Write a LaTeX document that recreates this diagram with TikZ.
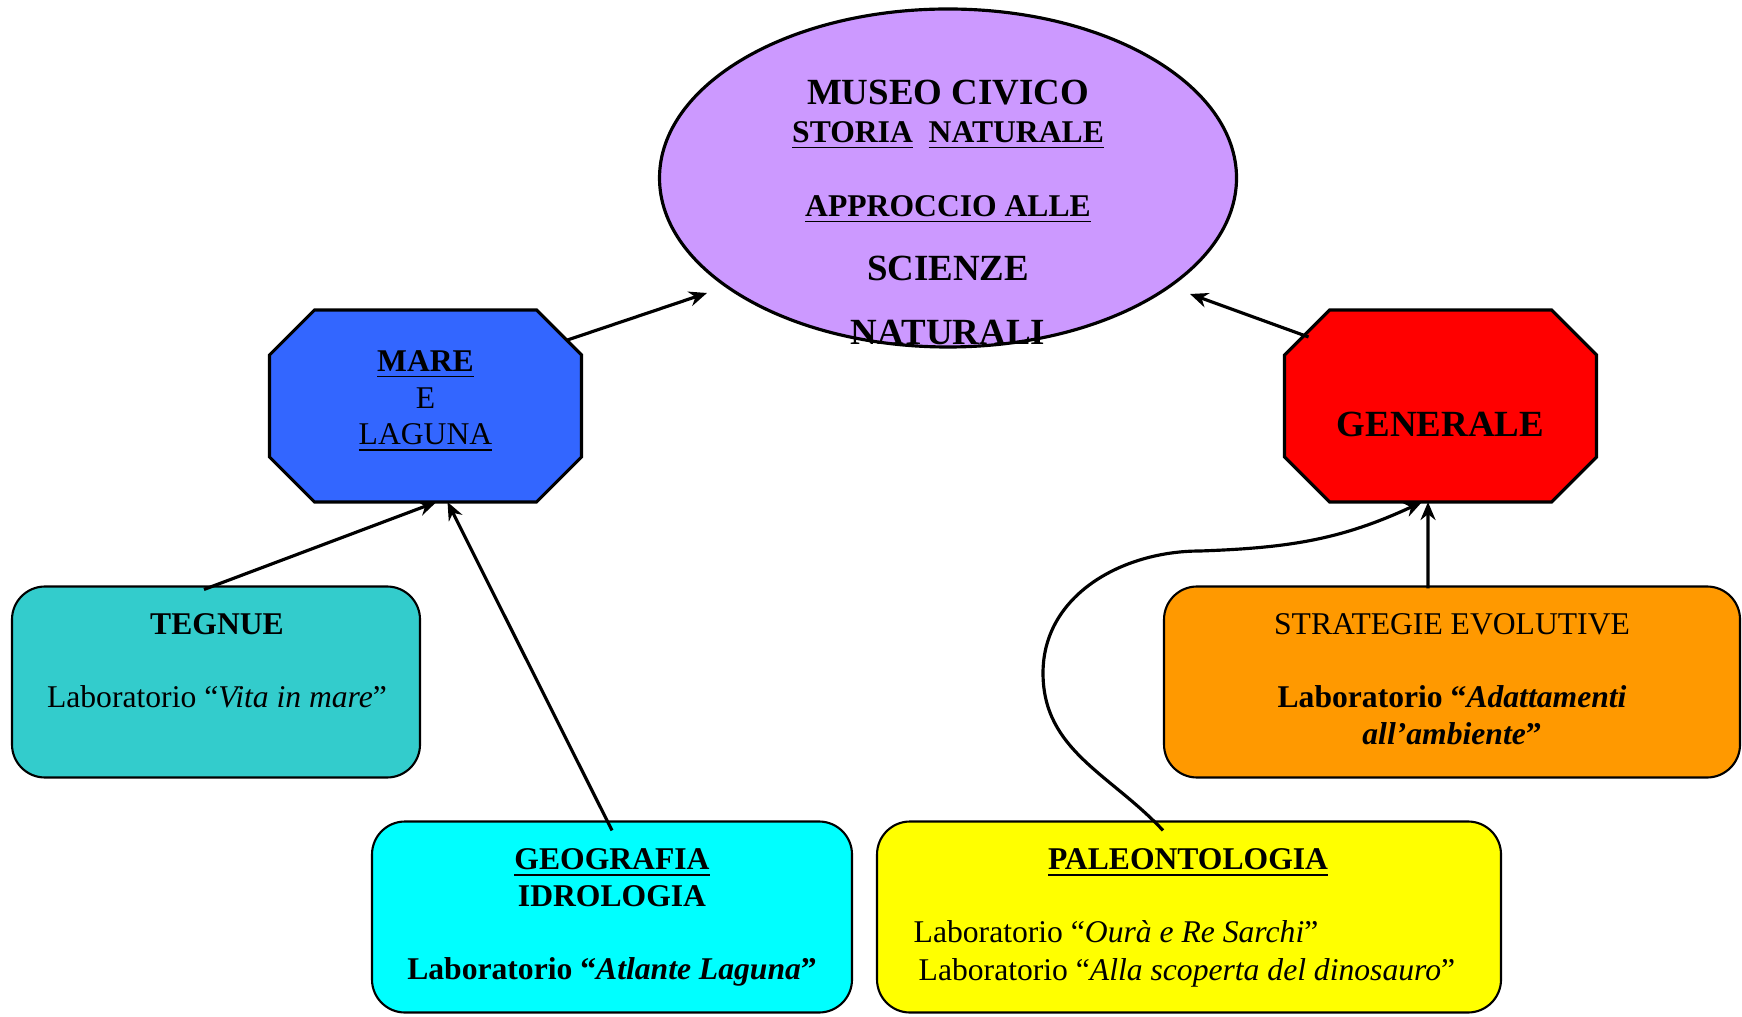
\documentclass[tikz,border=0pt]{standalone}
\usepackage{fontspec}
\setmainfont{Liberation Serif}
\usetikzlibrary{shapes.geometric}
\usetikzlibrary{arrows.meta}
\definecolor{viola}{HTML}{CC99FF}
\definecolor{blu}{HTML}{3366FF}
\definecolor{rosso}{HTML}{FF0000}
\definecolor{verdeacqua}{HTML}{33CCCC}
\definecolor{arancio}{HTML}{FF9900}
\definecolor{ciano}{HTML}{00FFFF}
\definecolor{giallo}{HTML}{FFFF00}
% ottagono attorno al nodo #1, colore #2
\newcommand{\ottagono}[2]{%
  \draw [black,fill=#2,line width=0.9pt] ([xshift=\c]#1.north west) -- ([xshift=-\c]#1.north east)
    -- ([yshift=-\c]#1.north east) -- ([yshift=\c]#1.south east) -- ([xshift=-\c]#1.south east)
    -- ([xshift=\c]#1.south west) -- ([yshift=\c]#1.south west) -- ([yshift=-\c]#1.north west) -- cycle;}

\begin{document}
\begin{tikzpicture}[
  ottbox/.style={inner sep=0,outer sep=0,minimum width=3.12cm,minimum height=1.92cm},
  scatola/.style={draw,black,rounded corners=0.33cm,inner sep=0,minimum height=1.91cm,line width=0.6pt},
  testo/.style={inner sep=0,align=center,font=\fontsize{9}{10.4}\selectfont},
  freccia/.style={-{Stealth[length=\l, width=\w]},line width=0.9pt}]
\def\l{1.8mm}
\def\w{1.5mm}
\def\c{4.5mm}
\useasboundingbox (0,0) rectangle (17.42,10.16);

\node [draw,black,fill=viola,ellipse,inner sep=0,minimum width=5.77cm,minimum height=3.38cm,line width=0.9pt, name=museo] at (9.48,8.38) {};
\node [ottbox, name=mare]                                           at (4.255,6.10) {};
\node [ottbox, name=generale]                                       at (14.405,6.10) {};
\ottagono{mare}{blu}
\ottagono{generale}{rosso}
\node [scatola,fill=verdeacqua,minimum width=4.08cm, name=tegnue]   at (2.16,3.34) {};
\node [scatola,fill=arancio,minimum width=5.76cm, name=strategie]   at (14.52,3.34) {};
\node [scatola,fill=ciano,minimum width=4.80cm, name=geografia]     at (6.12,0.99) {};
\node [scatola,fill=giallo,minimum width=6.24cm, name=paleo]        at (11.89,0.99) {};

% testi
\node [testo,anchor=north,font=\fontsize{9}{10.8}\selectfont\bfseries, name=museo-t] at (9.48,9.37)
  {{\fontsize{10.5}{10.8}\selectfont MUSEO CIVICO}\\ \underline{STORIA}\ \ \underline{NATURALE}\\[10.3pt]
   \underline{APPROCCIO ALLE}\\[7.4pt] {\fontsize{10.5}{10.8}\selectfont SCIENZE}\\[7.4pt] {\fontsize{10.5}{10.8}\selectfont NATURALI}};
\node [testo,anchor=north, name=mare-t] at (4.255,6.66) {\textbf{\underline{MARE}}\\E\\\underline{LAGUNA}};
\node [testo,anchor=north,font=\fontsize{10.5}{12}\selectfont\bfseries, name=generale-t] at (14.405,6.05) {GENERALE};
\node [testo,anchor=north, name=tegnue-t] at (2.17,4.03) {\textbf{TEGNUE}\\[10.4pt] Laboratorio “\textit{Vita in mare}”};
\node [testo,anchor=north, name=strategie-t] at (14.52,4.03)
  {STRATEGIE EVOLUTIVE\\[10.4pt] \textbf{Laboratorio “\textit{Adattamenti}}\\ \textbf{\textit{all’ambiente}”}};
\node [testo,anchor=north, name=geografia-t] at (6.12,1.68)
  {\textbf{\underline{GEOGRAFIA}}\\ \textbf{IDROLOGIA}\\[10.4pt] \textbf{Laboratorio “\textit{Atlante Laguna}”}};
\node [testo,anchor=north, name=paleo-t] at (11.88,1.68) {\textbf{\underline{PALEONTOLOGIA}}};
\node [testo,align=left,anchor=north west,font=\fontsize{9}{10.8}\selectfont, name=paleo-l] at (9.13,0.96)
  {Laboratorio “\textit{Ourà e Re Sarchi}”\\ \hspace*{0.5mm}Laboratorio “\textit{Alla scoperta del dinosauro}”};

% frecce
\coordinate (punta-s) at (7.07,7.23);
\coordinate (punta-d) at (11.90,7.22);
\draw [freccia]([xshift=-1.4mm,yshift=-3mm]mare.north east) to (punta-s);
\draw [freccia]([xshift=2.4mm,yshift=-2.7mm]generale.north west) to (punta-d);
\draw [freccia]([xshift=-1.2mm,yshift=-0.4mm]tegnue.north) to ([xshift=1.1mm]mare.south);
\draw [freccia]([yshift=-1mm]geografia.north) to ([xshift=2.2mm]mare.south);
\draw [freccia]([xshift=-2.4mm,yshift=-0.3mm]strategie.north) to ([xshift=-1.25mm]generale.south);
\draw [freccia]([xshift=-2.6mm,yshift=-1mm]paleo.north) to[out=133,in=-90] (10.43,3.43)
  to[out=90,in=180] (12.0,4.65) to[out=2,in=-155] ([xshift=-1.85mm]generale.south);
\end{tikzpicture}
\end{document}
